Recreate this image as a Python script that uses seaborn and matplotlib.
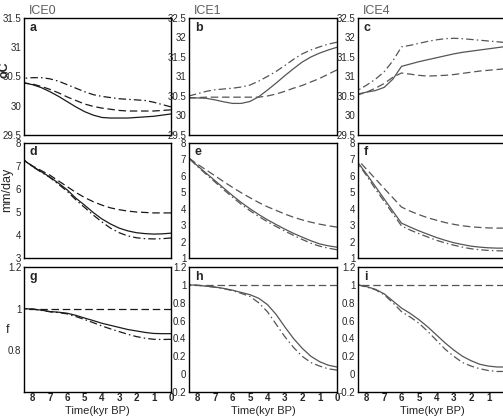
import numpy as np
import pandas as pd
import seaborn as sns
import matplotlib.pyplot as plt

# time axis (kyr BP)
time = [8.5, 8, 7.5, 7, 6.5, 6, 5.5, 5, 4.5, 4, 3.5, 3, 2.5, 2, 1.5, 1, 0.5, 0]

# SST (oC)
sst_ice0_solid = [30.39, 30.36, 30.31, 30.24, 30.16, 30.07, 29.98, 29.90, 29.84, 29.80, 29.79, 29.79, 29.79, 29.80, 29.81, 29.82, 29.84, 29.86]
sst_ice0_dash = [30.39, 30.37, 30.33, 30.28, 30.22, 30.15, 30.09, 30.03, 29.99, 29.96, 29.94, 29.92, 29.91, 29.91, 29.91, 29.91, 29.92, 29.93]
sst_ice0_dashdot = [30.47, 30.48, 30.48, 30.46, 30.42, 30.36, 30.30, 30.24, 30.19, 30.16, 30.14, 30.12, 30.11, 30.10, 30.09, 30.06, 30.02, 29.98]

sst_ice1_solid = [30.45, 30.45, 30.44, 30.40, 30.35, 30.31, 30.31, 30.36, 30.48, 30.65, 30.83, 31.02, 31.20, 31.37, 31.50, 31.60, 31.68, 31.75]
sst_ice1_dash = [30.45, 30.46, 30.47, 30.47, 30.47, 30.47, 30.47, 30.47, 30.47, 30.50, 30.55, 30.62, 30.70, 30.77, 30.86, 30.95, 31.06, 31.17]
sst_ice1_dashdot = [30.50, 30.56, 30.62, 30.66, 30.68, 30.70, 30.73, 30.78, 30.88, 31.00, 31.13, 31.28, 31.44, 31.58, 31.68, 31.76, 31.83, 31.88]

sst_ice4_solid = [30.55, 30.60, 30.64, 30.72, 30.93, 31.26, 31.32, 31.38, 31.43, 31.48, 31.53, 31.58, 31.62, 31.65, 31.68, 31.71, 31.74, 31.77]
sst_ice4_dash = [30.53, 30.60, 30.70, 30.82, 30.98, 31.09, 31.06, 31.03, 31.01, 31.02, 31.03, 31.05, 31.08, 31.11, 31.14, 31.16, 31.18, 31.20]
sst_ice4_dashdot = [30.65, 30.78, 30.93, 31.12, 31.40, 31.76, 31.80, 31.85, 31.90, 31.94, 31.97, 31.98, 31.97, 31.95, 31.93, 31.91, 31.89, 31.87]

# precipitation (mm/day)
pr_ice0_solid = [7.25, 6.98, 6.75, 6.52, 6.25, 5.96, 5.60, 5.30, 4.98, 4.70, 4.48, 4.30, 4.18, 4.10, 4.06, 4.04, 4.05, 4.08]
pr_ice0_dash = [7.25, 7.00, 6.80, 6.60, 6.35, 6.10, 5.85, 5.63, 5.45, 5.30, 5.18, 5.10, 5.04, 5.00, 4.98, 4.96, 4.96, 4.96]
pr_ice0_dashdot = [7.25, 6.97, 6.73, 6.50, 6.20, 5.90, 5.53, 5.20, 4.87, 4.57, 4.30, 4.10, 3.96, 3.88, 3.84, 3.83, 3.84, 3.87]

pr_ice1_solid = [7.08, 6.60, 6.15, 5.70, 5.25, 4.80, 4.38, 4.00, 3.65, 3.33, 3.04, 2.76, 2.50, 2.27, 2.05, 1.86, 1.74, 1.66]
pr_ice1_dash = [7.08, 6.70, 6.35, 6.00, 5.64, 5.30, 4.97, 4.67, 4.38, 4.12, 3.90, 3.68, 3.48, 3.32, 3.18, 3.06, 2.96, 2.88]
pr_ice1_dashdot = [7.06, 6.56, 6.08, 5.62, 5.15, 4.70, 4.27, 3.88, 3.53, 3.21, 2.92, 2.64, 2.38, 2.13, 1.90, 1.72, 1.60, 1.50]

pr_ice4_solid = [6.80, 6.10, 5.35, 4.60, 3.85, 3.12, 2.88, 2.65, 2.45, 2.25, 2.08, 1.93, 1.82, 1.72, 1.66, 1.62, 1.60, 1.60]
pr_ice4_dash = [6.96, 6.39, 5.82, 5.24, 4.67, 4.10, 3.85, 3.64, 3.45, 3.30, 3.16, 3.05, 2.96, 2.90, 2.86, 2.83, 2.82, 2.82]
pr_ice4_dashdot = [6.75, 6.00, 5.20, 4.45, 3.70, 2.95, 2.70, 2.48, 2.28, 2.08, 1.92, 1.78, 1.66, 1.56, 1.50, 1.46, 1.44, 1.43]

# f
f_ice0_solid = [1.0, 0.998, 0.993, 0.986, 0.983, 0.978, 0.968, 0.955, 0.943, 0.930, 0.920, 0.910, 0.900, 0.893, 0.886, 0.881, 0.880, 0.880]
f_ice0_dash = [1.0] * 18
f_ice0_dashdot = [1.0, 0.998, 0.992, 0.985, 0.981, 0.975, 0.962, 0.948, 0.933, 0.917, 0.903, 0.890, 0.877, 0.866, 0.858, 0.853, 0.852, 0.853]

f_ice1_solid = [1.0, 0.995, 0.985, 0.975, 0.960, 0.940, 0.915, 0.890, 0.850, 0.780, 0.670, 0.530, 0.400, 0.290, 0.200, 0.140, 0.100, 0.080]
f_ice1_dash = [1.0] * 18
f_ice1_dashdot = [1.0, 0.995, 0.985, 0.973, 0.957, 0.935, 0.905, 0.870, 0.800, 0.700, 0.560, 0.420, 0.300, 0.200, 0.130, 0.090, 0.060, 0.045]

f_ice4_solid = [1.0, 0.980, 0.950, 0.900, 0.820, 0.740, 0.680, 0.610, 0.530, 0.440, 0.350, 0.270, 0.200, 0.150, 0.110, 0.090, 0.080, 0.080]
f_ice4_dash = [1.0] * 18
f_ice4_dashdot = [1.0, 0.975, 0.945, 0.890, 0.800, 0.700, 0.640, 0.570, 0.480, 0.380, 0.280, 0.200, 0.130, 0.090, 0.060, 0.040, 0.030, 0.030]

panels = [
    [(sst_ice0_solid, sst_ice0_dash, sst_ice0_dashdot),
     (sst_ice1_solid, sst_ice1_dash, sst_ice1_dashdot),
     (sst_ice4_solid, sst_ice4_dash, sst_ice4_dashdot)],
    [(pr_ice0_solid, pr_ice0_dash, pr_ice0_dashdot),
     (pr_ice1_solid, pr_ice1_dash, pr_ice1_dashdot),
     (pr_ice4_solid, pr_ice4_dash, pr_ice4_dashdot)],
    [(f_ice0_solid, f_ice0_dash, f_ice0_dashdot),
     (f_ice1_solid, f_ice1_dash, f_ice1_dashdot),
     (f_ice4_solid, f_ice4_dash, f_ice4_dashdot)],
]
letters = ["a", "b", "c", "d", "e", "f", "g", "h", "i"]
col_titles = ["ICE0", "ICE1", "ICE4"]

sns.set_style("white")
plt.rcParams["font.family"] = ["Liberation Sans", "DejaVu Sans"]

fig = plt.figure(figsize=(5.03, 4.2), dpi=100)

W, H = 503.0, 420.0
col_px = [(24, 147), (189, 148), (358, 148)]
row_px = [(18, 117), (143, 115), (267, 125)]

ylims = [
    [(29.5, 31.5), (29.5, 32.5), (29.5, 32.5)],
    [(3, 8), (1, 8), (1, 8)],
    [(0.6, 1.2), (-0.2, 1.2), (-0.2, 1.2)],
]
yticks = [
    [np.arange(29.5, 31.51, 0.5), np.arange(29.5, 32.51, 0.5), np.arange(29.5, 32.51, 0.5)],
    [np.arange(3, 9), np.arange(1, 9), np.arange(1, 9)],
    [[0.8, 1.0, 1.2], np.arange(-0.2, 1.21, 0.2), np.arange(-0.2, 1.21, 0.2)],
]
line_colors = ["#1a1a1a", "#555555", "#555555"]
dashes = {"solid": "", "dashed": (6, 3), "dashdot": (6, 2.5, 1.2, 2.5)}

def fmt(v):
    s = f"{v:.1f}"
    if s.endswith(".0"):
        s = s[:-2]
    if s == "-0":
        s = "0"
    return s

k = 0
for r in range(3):
    for c in range(3):
        x0, w = col_px[c]
        y0, h = row_px[r]
        ax = fig.add_axes([x0 / W, 1 - (y0 + h) / H, w / W, h / H])
        solid, dash, dashdot = panels[r][c]
        df = pd.DataFrame({
            "time": time * 3,
            "value": solid + dash + dashdot,
            "run": ["solid"] * 18 + ["dashed"] * 18 + ["dashdot"] * 18,
        })
        sns.lineplot(data=df, x="time", y="value", style="run", dashes=dashes,
                     color=line_colors[c], linewidth=0.9, legend=False, ax=ax)
        ax.set_xlim(8.5, 0)
        ax.set_ylim(*ylims[r][c])
        ax.set_yticks(yticks[r][c])
        ax.set_yticklabels([fmt(v) for v in yticks[r][c]])
        ax.set_xlabel("")
        ax.set_ylabel("")
        if r == 2:
            # the right panel is cut at the image edge, so its 0 is not shown
            xt = list(range(1, 9)) if c == 2 else list(range(0, 9))
            ax.set_xticks(xt)
            ax.set_xticklabels([str(v) for v in xt], fontweight="bold")
            ax.set_xlabel("Time(kyr BP)", fontsize=8, labelpad=2)
        else:
            ax.set_xticks([])
        ax.tick_params(axis="y", labelsize=7, length=2, width=0.8, pad=0, direction="out")
        ax.tick_params(axis="x", labelsize=7, length=0, pad=1)
        for sp in ax.spines.values():
            sp.set_color("black")
            sp.set_linewidth(1.0)
        ax.text(0.04, 0.97, letters[k], transform=ax.transAxes, fontsize=9,
                fontweight="bold", va="top", ha="left")
        if r == 0:
            ax.text(0.03, 1.01, col_titles[c], transform=ax.transAxes, fontsize=9,
                    color="#606060", va="bottom", ha="left")
        k += 1

fig.text(5 / W, 1 - 70 / H, "oC", rotation=90, fontsize=9, fontweight="bold",
         ha="center", va="center")
fig.text(7 / W, 1 - 190 / H, "mm/day", rotation=90, fontsize=9,
         ha="center", va="center")
fig.text(8 / W, 1 - 330 / H, "f", fontsize=9, ha="center", va="center")

fig.savefig("out.png", dpi=100)
